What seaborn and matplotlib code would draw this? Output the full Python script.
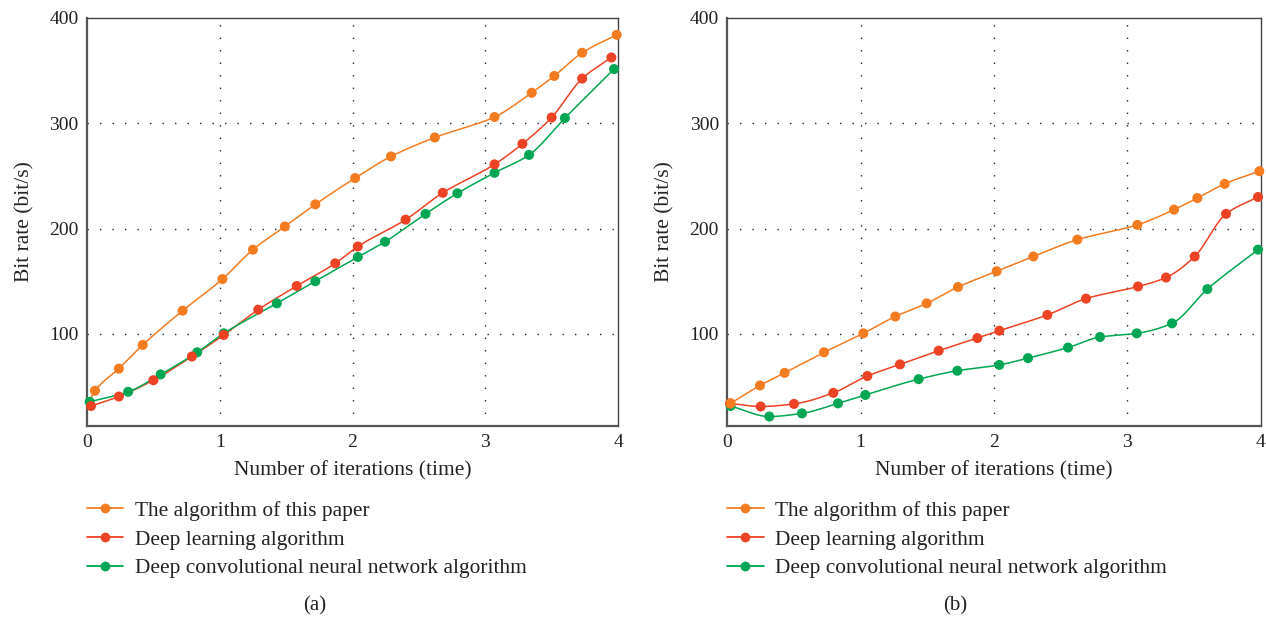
import numpy as np
import matplotlib
matplotlib.use("Agg")
import matplotlib.pyplot as plt
from matplotlib.lines import Line2D
import seaborn as sns
import pandas as pd

# ---------------- data ----------------
series_names = ["The algorithm of this paper", "Deep learning algorithm",
                "Deep convolutional neural network algorithm"]
series_colors = ["#F47B20", "#EE4224", "#00A651"]

# panel (a)
a_orange_x = [0.0, 0.06, 0.24, 0.42, 0.72, 1.02, 1.25, 1.49, 1.72, 2.02, 2.29, 2.62, 3.07, 3.35, 3.52, 3.73, 3.99]
a_orange_y = [32, 46, 67, 89.5, 122, 152, 180, 202, 223, 248, 268.5, 286.5, 306, 329, 345, 367, 384]
a_red_x = [0.03, 0.24, 0.50, 0.79, 1.03, 1.29, 1.58, 1.87, 2.04, 2.40, 2.68, 3.07, 3.28, 3.50, 3.73, 3.95]
a_red_y = [31.5, 40.5, 56, 78.5, 99, 123, 145.5, 167, 183, 208.5, 234, 261, 280.5, 305.5, 342.5, 362.5]
a_green_x = [0.02, 0.31, 0.555, 0.83, 1.03, 1.43, 1.72, 2.04, 2.245, 2.55, 2.79, 3.07, 3.33, 3.60, 3.97]
a_green_y = [35.5, 45, 61.5, 82.5, 100.5, 129, 150, 173, 187.5, 214, 233.5, 253, 270, 305, 351.5]

# panel (b)
b_orange_x = [0.025, 0.245, 0.43, 0.725, 1.02, 1.26, 1.495, 1.73, 2.02, 2.295, 2.625, 3.075, 3.35, 3.525, 3.73, 3.99]
b_orange_y = [34, 51, 63, 82.5, 100.5, 116.5, 129, 144.5, 159.5, 173.5, 189.5, 203.5, 218, 229, 242.5, 254.5]
b_red_x = [0.02, 0.25, 0.50, 0.795, 1.05, 1.295, 1.585, 1.875, 2.04, 2.40, 2.69, 3.08, 3.29, 3.505, 3.74, 3.98]
b_red_y = [34, 31, 33.5, 44, 60, 71, 84, 96, 103, 118, 133.5, 145, 153.5, 173.5, 214, 230]
b_green_x = [0.025, 0.315, 0.56, 0.83, 1.035, 1.435, 1.725, 2.04, 2.255, 2.555, 2.795, 3.07, 3.335, 3.60, 3.98]
b_green_y = [31.5, 21.5, 24.5, 34, 42, 57, 65, 70.5, 77, 87, 97, 100.5, 110, 142.5, 180]

x_ticks = [0, 1, 2, 3, 4]
y_ticks = [100, 200, 300, 400]
x_label = "Number of iterations (time)"
y_label = "Bit rate (bit/s)"
captions = ["(a)", "(b)"]

# ---------------- style ----------------
sns.set_theme(style="white")
plt.rcParams["font.family"] = ["Liberation Serif", "DejaVu Serif"]


def pchip(x, y, n=400):
    """Smooth monotone cubic curve through the read points (for drawing only)."""
    x = np.asarray(x, float)
    y = np.asarray(y, float)
    h = np.diff(x)
    d = np.diff(y) / h
    m = np.zeros_like(y)
    for k in range(1, len(x) - 1):
        if d[k - 1] * d[k] > 0:
            w1 = 2 * h[k] + h[k - 1]
            w2 = h[k] + 2 * h[k - 1]
            m[k] = (w1 + w2) / (w1 / d[k - 1] + w2 / d[k])
    m[0] = d[0]
    m[-1] = d[-1]
    xs = np.linspace(x[0], x[-1], n)
    idx = np.clip(np.searchsorted(x, xs) - 1, 0, len(x) - 2)
    t = (xs - x[idx]) / h[idx]
    h00 = 2 * t**3 - 3 * t**2 + 1
    h10 = t**3 - 2 * t**2 + t
    h01 = -2 * t**3 + 3 * t**2
    h11 = t**3 - t**2
    ys = h00 * y[idx] + h10 * h[idx] * m[idx] + h01 * y[idx + 1] + h11 * h[idx] * m[idx + 1]
    return xs, ys


fig = plt.figure(figsize=(12.66, 6.18), dpi=100)
ax_a = fig.add_axes([87 / 1266, 1 - 426 / 618, 531 / 1266, 408 / 618])
ax_b = fig.add_axes([727.3 / 1266, 1 - 426 / 618, 533.4 / 1266, 408 / 618])

panels = [
    (ax_a, [(a_orange_x, a_orange_y, 1), (a_red_x, a_red_y, 0), (a_green_x, a_green_y, 0)]),
    (ax_b, [(b_orange_x, b_orange_y, 0), (b_red_x, b_red_y, 0), (b_green_x, b_green_y, 0)]),
]

for ax, series in panels:
    # draw green first, then red, then orange on top
    for i in [2, 1, 0]:
        xs, ys, skip = series[i]
        cx, cy = pchip(xs, ys)
        sns.lineplot(x=cx, y=cy, ax=ax, color=series_colors[i], linewidth=1.1,
                     sort=False, estimator=None, zorder=3 + i * 0.01)
        df = pd.DataFrame({"x": xs[skip:], "y": ys[skip:]})
        sns.scatterplot(data=df, x="x", y="y", ax=ax, color=series_colors[i], s=52,
                        edgecolor="none", linewidth=0, zorder=4 + (2 - i), clip_on=False)
    ax.set_xlim(0, 4)
    ax.set_ylim(12.5, 400)
    ax.set_xticks(x_ticks)
    ax.set_yticks(y_ticks)
    ax.tick_params(axis="both", length=0, labelsize=14, colors="#222222", pad=6)
    ax.set_xlabel(x_label, fontsize=15.5, color="#222222", labelpad=7)
    ax.set_ylabel(y_label, fontsize=15.5, color="#222222", labelpad=11)
    for v in [1, 2, 3]:
        ax.axvline(v, color="#222222", linewidth=1.0, linestyle=(0, (1, 8)), zorder=1)
    for v in [100, 200, 300]:
        ax.axhline(v, color="#222222", linewidth=1.0, linestyle=(0, (1, 8)), zorder=1)
    for side in ["left", "bottom"]:
        ax.spines[side].set_color("#555555")
        ax.spines[side].set_linewidth(1.6)
    for side in ["top", "right"]:
        ax.spines[side].set_color("#444444")
        ax.spines[side].set_linewidth(1.0)

handles = [Line2D([0], [0], color=c, linewidth=1.3, marker="o", markersize=7,
                  markeredgewidth=0) for c in series_colors]

for ax, left_px, cap_px, cap in [(ax_a, 87, 315, captions[0]), (ax_b, 727.3, 955, captions[1])]:
    fig.legend(handles, series_names, loc="upper left",
               bbox_to_anchor=(left_px / 1266, 1 - 501 / 618), frameon=False,
               fontsize=15.4, handlelength=1.7, handletextpad=0.55, labelspacing=0.40,
               borderpad=0, borderaxespad=0, labelcolor="#222222")
    fig.text(cap_px / 1266, 1 - 606 / 618, cap,
             ha="center", va="center", fontsize=15, color="#222222")

fig.savefig("out.png", dpi=100, facecolor="white")
